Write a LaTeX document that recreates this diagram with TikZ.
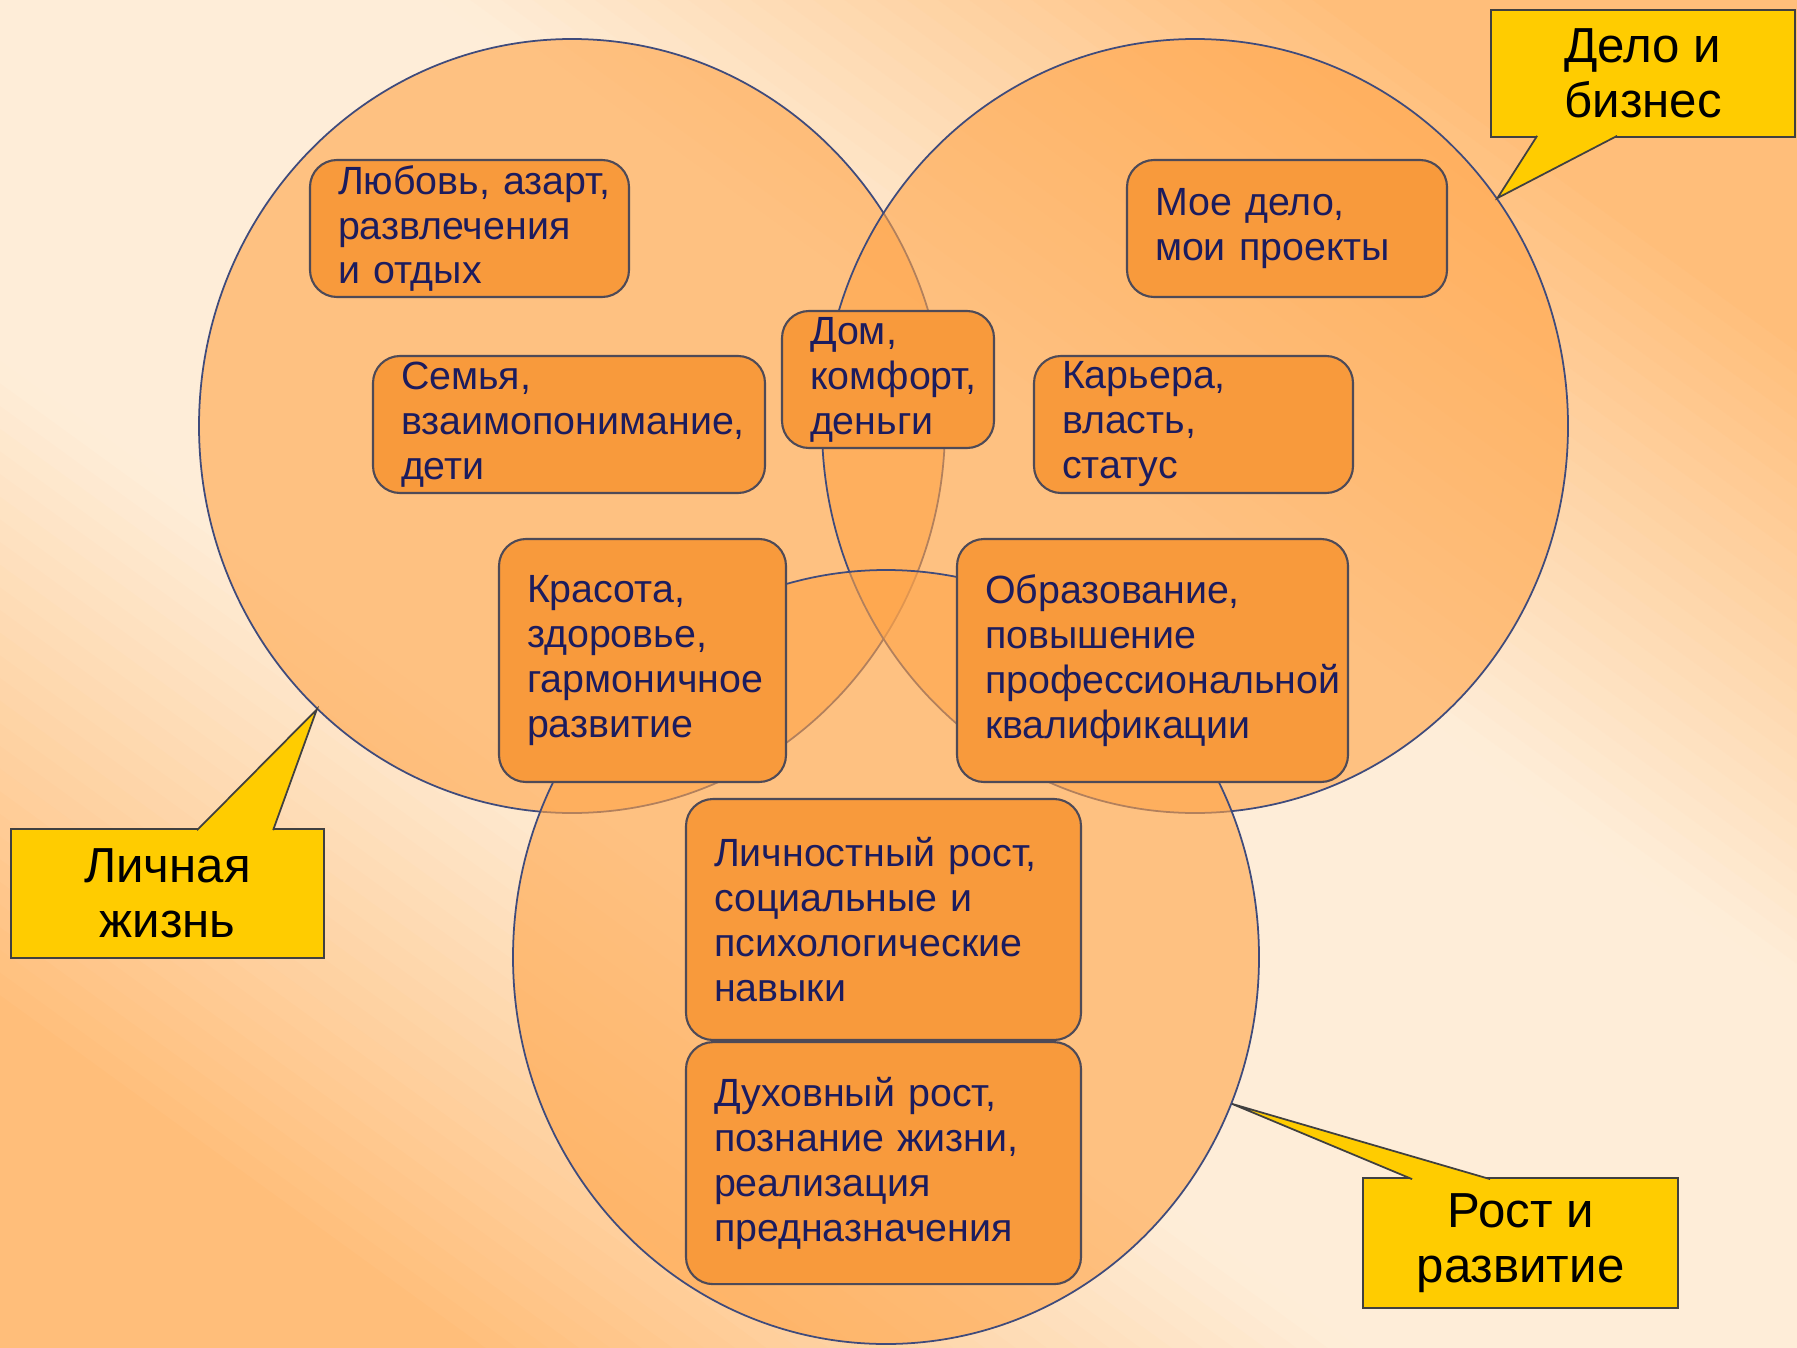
\documentclass[tikz,border=0pt]{standalone}
\usepackage{fontspec}
\setmainfont{Liberation Sans}
\usepackage{xcolor}
\usetikzlibrary{shapes,positioning,calc}

\definecolor{bgcream}{HTML}{FEEDD8}
\definecolor{bgorange}{HTML}{FFBE7A}
\definecolor{ringfill}{HTML}{FFA448}
\definecolor{ringline}{HTML}{3F4B7C}
\definecolor{topicfill}{HTML}{F89A3C}
\definecolor{topicline}{HTML}{4E4A57}
\definecolor{topictext}{HTML}{1C1C5E}
\definecolor{callfill}{HTML}{FFCC00}

\begin{document}
\begin{tikzpicture}[x=0.1mm, y=-0.1mm,
    sphere/.style={ellipse, draw=ringline, line width=0.5pt, fill=ringfill, fill opacity=0.6, minimum width=74.6mm, minimum height=77.4mm, inner sep=0pt},
    topic/.style={rectangle, draw=topicline, line width=0.6pt, fill=topicfill, rounded corners=2.7mm, text width=#1, align=left, inner xsep=2.8mm, inner ysep=0.2mm, minimum height=13.7mm, text=topictext, font=\fontsize{11.2}{12.8}\selectfont},
    callbox/.style={rectangle, draw=black!75, line width=0.5pt, fill=callfill, align=center, minimum width=31.3mm, minimum height=12.9mm, font=\fontsize{14}{15.6}\selectfont},
    pointer/.style={draw=black!75, line width=0.5pt, fill=callfill}]

    % Background: stripes from orange over cream to orange
    \useasboundingbox (0,0) rectangle (1797,1347);
    \coordinate (mid) at (898.5,673.5);
    \begin{scope}[rotate around={54:(mid)}]
        \foreach \i in {0,...,119}{
            \pgfmathsetmacro{\pos}{-1100+(\i+0.5)*18.333}
            \pgfmathsetmacro{\mix}{min(100,max(0,(abs(\pos)-280)/5.2))}
            \fill[bgorange!\mix!bgcream] ($(mid)+(-1100+\i*18.333,-1130)$) rectangle ++(19.5,2260);
        }
    \end{scope}

    % Circles
    \node[sphere] (personal) at (572,426) {};
    \node[sphere] (business) at (1195,426) {};
    \node[sphere] (growth) at (886,957) {};

    % Personal life
    \node[topic=26.3mm] (love) at (469.5,228.5) {Любовь,~азарт,\\развлечения\\и~отдых};
    \node[topic=33.6mm] (family) at (569,424.5) {Семья,\\взаимопонимание,\\дети};
    \node[topic=15.6mm] (home) at (888,379.5) {Дом,\\комфорт,\\деньги};
    \node[topic=23.1mm, minimum height=24.3mm] (beauty) at (642.5,660.5) {Красота,\\здоровье,\\гармоничное\\развитие};

    % Business
    \node[topic=26.4mm] (work) at (1287,228.5) {Мое~дело,\\мои~проекты};
    \node[topic=26.3mm] (career) at (1193.5,424.5) {Карьера,\\власть,\\статус};
    \node[topic=33.5mm, minimum height=24.3mm] (study) at (1152.5,660.5) {Образование,\\повышение\\профессиональной\\квалификации};

    % Growth
    \node[topic=33.9mm, minimum height=24.1mm] (selfgrowth) at (883.5,919.5) {Личностный~рост,\\социальные~и\\психологические\\навыки};
    \node[topic=33.9mm, minimum height=24.2mm, below=0pt of selfgrowth] (spirit) {Духовный~рост,\\познание~жизни,\\реализация\\предназначения};

    % Callouts
    \node[callbox] (lablife) at (167.5,893.5) {Личная\\жизнь};
    \node[callbox, minimum width=30.4mm, minimum height=12.7mm] (labbusiness) at (1643,73.5) {Дело и\\бизнес};
    \node[callbox, minimum width=31.5mm, minimum height=13mm] (labgrowth) at (1520.5,1243) {Рост и\\развитие};

    % Pointers
    \path[pointer] ($(lablife.north west)+(187,2)$) -- (personal.228.5) -- ($(lablife.north west)+(263,2)$);
    \path[pointer] ($(labbusiness.south west)+(47,-2)$) -- (business.37) -- ($(labbusiness.south west)+(127,-2)$);
    \path[pointer] ($(labgrowth.north west)+(50,2)$) -- (growth.337.7) -- ($(labgrowth.north west)+(128,2)$);

\end{tikzpicture}
\end{document}
